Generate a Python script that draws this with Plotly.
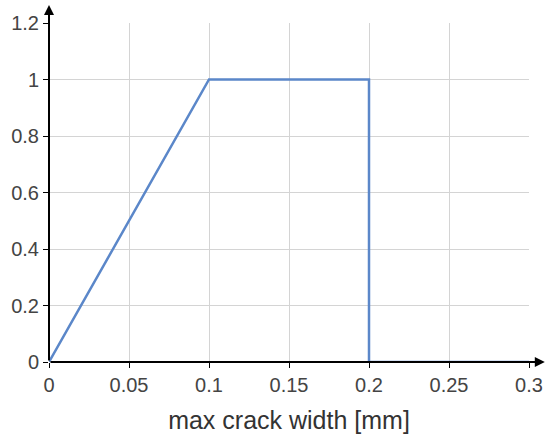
import plotly.graph_objects as go

# crack width [mm] vs factor
crack_width = [0, 0.1, 0.2, 0.2, 0.3]
factor = [0, 1, 1, 0, 0]

x_ticks = [0, 0.05, 0.1, 0.15, 0.2, 0.25, 0.3]
x_labels = ["0", "0.05", "0.1", "0.15", "0.2", "0.25", "0.3"]
y_ticks = [0, 0.2, 0.4, 0.6, 0.8, 1, 1.2]
y_labels = ["0", "0.2", "0.4", "0.6", "0.8", "1", "1.2"]

fig = go.Figure()
fig.add_trace(
    go.Scatter(
        x=crack_width,
        y=factor,
        mode="lines",
        line=dict(color="#5b87c9", width=2.5),
        showlegend=False,
        cliponaxis=False,
    )
)

axis_common = dict(
    showgrid=True,
    gridcolor="#d4d4d4",
    gridwidth=1,
    zeroline=False,
    showline=False,
    ticks="outside",
    ticklen=5,
    tickcolor="black",
    tickfont=dict(size=20, color="#444444"),
    automargin=False,
)

fig.update_xaxes(
    range=[0, 0.3],
    tickvals=x_ticks,
    ticktext=x_labels,
    title=dict(text="max crack width [mm]", font=dict(size=25, color="#333333"), standoff=16),
    **axis_common,
)
fig.update_yaxes(
    range=[0, 1.2],
    tickvals=y_ticks,
    ticktext=y_labels,
    **axis_common,
)

# axis lines with arrow heads
arrow = dict(
    xref="x domain", yref="y domain", axref="x domain", ayref="y domain",
    text="", showarrow=True, arrowhead=2, arrowsize=1.0,
    arrowwidth=2, arrowcolor="black",
)
fig.add_annotation(x=0, y=1.053, ax=0, ay=0, **arrow)
fig.add_annotation(x=1.033, y=0, ax=0, ay=0, **arrow)

fig.update_layout(
    width=547,
    height=442,
    margin=dict(l=49, r=18, t=23, b=80),
    plot_bgcolor="white",
    paper_bgcolor="white",
    font=dict(family="Liberation Sans, Arial, sans-serif"),
)

# page has a default 8px body margin; drop it so the figure sits at the corner
fig.write_html(
    "out.html",
    config={"displayModeBar": False},
    post_script="document.body.style.margin='0';",
)
